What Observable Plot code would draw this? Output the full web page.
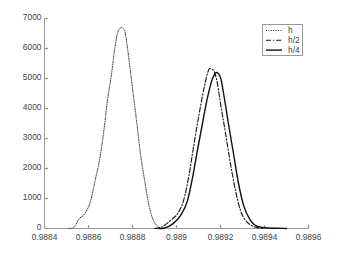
<!DOCTYPE html>
<html>
<head>
<meta charset="utf-8">
<script src="https://cdn.jsdelivr.net/npm/d3@7"></script>
<script src="https://cdn.jsdelivr.net/npm/@observablehq/plot@0.6"></script>
<style>
  html, body { margin: 0; padding: 0; background: #fff; }
  #wrap { position: relative; width: 341px; height: 256px; font-family: "Liberation Sans", Arial, sans-serif; }
  #legend { position: absolute; left: 262px; top: 24px; width: 39px; height: 30px; border: 1px solid #999; background: #fff; box-sizing: content-box; }
  #legend svg { display: block; }
</style>
</head>
<body>
<div id="wrap"></div>
<script>
// Series: [x, density]
const seriesNames = ["h", "h/2", "h/4"];
const hX = [0.98851, 0.98853, 0.988555, 0.988586, 0.98861, 0.98863, 0.98865, 0.98867, 0.988686, 0.988705, 0.98872, 0.988736, 0.98875, 0.988764, 0.988777, 0.98879, 0.988805, 0.98882, 0.988836, 0.988855, 0.988873, 0.988895, 0.988914, 0.98893];
const hY = [0, 20, 300, 530, 930, 1600, 2270, 3270, 4270, 5170, 6030, 6600, 6700, 6600, 6030, 5270, 4370, 3500, 2500, 1600, 830, 270, 70, 0];
const h2X = [0.98890, 0.988927, 0.988973, 0.989005, 0.989032, 0.989055, 0.989077, 0.98910, 0.989123, 0.989141, 0.98915, 0.989168, 0.989186, 0.98920, 0.989223, 0.989245, 0.989268, 0.989291, 0.989323, 0.989368, 0.989395];
const h2Y = [0, 30, 270, 500, 930, 1700, 2700, 3700, 4600, 5170, 5330, 5270, 4830, 4170, 3170, 2170, 1270, 600, 200, 30, 0];
const h4X = [0.98892, 0.988941, 0.988986, 0.989018, 0.98905, 0.989073, 0.989095, 0.989118, 0.989141, 0.989164, 0.989182, 0.98920, 0.989214, 0.989236, 0.989259, 0.989282, 0.989305, 0.989336, 0.989368, 0.989414, 0.98946, 0.98950];
const h4Y = [0, 10, 170, 430, 930, 1700, 2600, 3500, 4370, 5000, 5200, 5030, 4500, 3500, 2500, 1500, 770, 270, 70, 15, 8, 0];
const xTicks = [0.9884, 0.9886, 0.9888, 0.989, 0.9892, 0.9894, 0.9896];
const yTicks = [0, 1000, 2000, 3000, 4000, 5000, 6000, 7000];

const toRows = (xs, ys) => xs.map((x, i) => ({x, y: ys[i]}));
const hRows = toRows(hX, hY);
const h2Rows = toRows(h2X, h2Y);
const h4Rows = toRows(h4X, h4Y);

const axisColor = "#999";
const textColor = "#444";

const chart = Plot.plot({
  width: 341,
  height: 256,
  marginLeft: 44,
  marginRight: 33,
  marginTop: 18,
  marginBottom: 28,
  style: {fontFamily: "'Liberation Sans', Arial, sans-serif", fontSize: "8.4px", background: "#fff", color: textColor},
  x: {domain: [0.9884, 0.9896]},
  y: {domain: [0, 7000]},
  marks: [
    Plot.ruleY([0], {stroke: axisColor, strokeWidth: 1}),
    Plot.ruleX([0.9884], {stroke: axisColor, strokeWidth: 1}),
    Plot.vector(xTicks, {x: d => d, y: 0, length: 3, rotate: 0, anchor: "start", stroke: axisColor, strokeWidth: 1}),
    Plot.vector(yTicks, {x: 0.9884, y: d => d, length: 3, rotate: 90, anchor: "start", stroke: axisColor, strokeWidth: 1}),
    Plot.axisX(xTicks, {tickSize: 0, tickPadding: 5, dy: 0.5, tickFormat: d => String(+d.toFixed(4)), fill: textColor, label: null}),
    Plot.axisY(yTicks, {tickSize: 0, tickPadding: 3, dy: -1, tickFormat: d => String(d), fill: textColor, label: null}),
    Plot.line(hRows, {x: "x", y: "y", stroke: "#333", strokeWidth: 1, strokeDasharray: "1,1.4", curve: "monotone-x"}),
    Plot.line(h2Rows, {x: "x", y: "y", stroke: "#111", strokeWidth: 1.1, strokeDasharray: "5,2,1.2,2", curve: "monotone-x"}),
    Plot.line(h4Rows, {x: "x", y: "y", stroke: "#111", strokeWidth: 1.4, curve: "monotone-x"})
  ]
});

const wrap = document.getElementById("wrap");
wrap.appendChild(chart);

// Legend
const styles = [
  {dash: "1,1.4", width: 1, color: "#333"},
  {dash: "5,2,1.2,2", width: 1.1, color: "#111"},
  {dash: null, width: 1.4, color: "#111"}
];
const legend = document.createElement("div");
legend.id = "legend";
const ns = "http://www.w3.org/2000/svg";
const svg = document.createElementNS(ns, "svg");
svg.setAttribute("width", 39);
svg.setAttribute("height", 30);
seriesNames.forEach((name, i) => {
  const yy = 5.5 + i * 9.8;
  const ln = document.createElementNS(ns, "line");
  ln.setAttribute("x1", 3); ln.setAttribute("x2", 19);
  ln.setAttribute("y1", yy); ln.setAttribute("y2", yy);
  ln.setAttribute("stroke", styles[i].color);
  ln.setAttribute("stroke-width", styles[i].width);
  if (styles[i].dash) ln.setAttribute("stroke-dasharray", styles[i].dash);
  svg.appendChild(ln);
  const t = document.createElementNS(ns, "text");
  t.setAttribute("x", 25); t.setAttribute("y", yy);
  t.setAttribute("dy", "0.32em");
  t.setAttribute("font-size", "8.4px");
  t.setAttribute("font-family", "'Liberation Sans', Arial, sans-serif");
  t.setAttribute("fill", textColor);
  t.textContent = name;
  svg.appendChild(t);
});
legend.appendChild(svg);
wrap.appendChild(legend);
</script>
</body>
</html>
